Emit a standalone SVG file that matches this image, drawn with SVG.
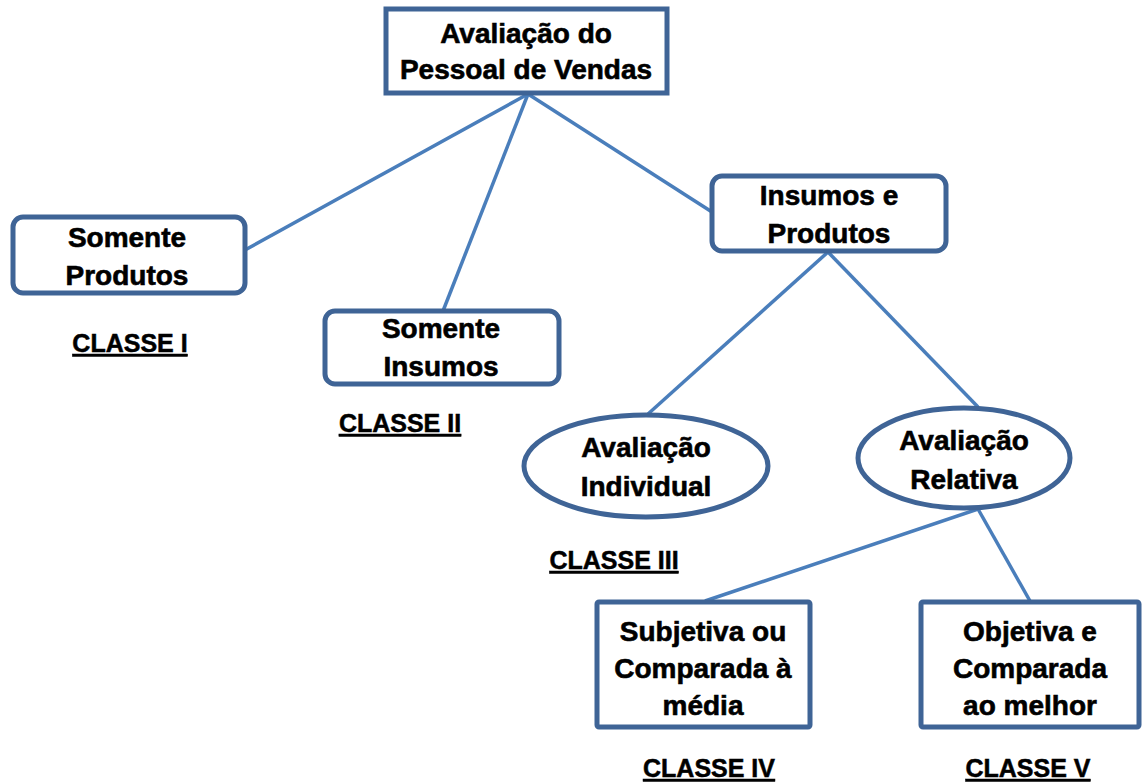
<svg xmlns="http://www.w3.org/2000/svg" width="1145" height="782" viewBox="0 0 1145 782">
<style>
.node{fill:#ffffff;stroke:#3F6496;stroke-width:5}
.t{font-family:"Liberation Sans",Arial,sans-serif;font-weight:bold;font-size:28px;fill:#000;stroke:#000;stroke-width:0.6;text-anchor:middle}
.c{font-family:"Liberation Sans",Arial,sans-serif;font-weight:bold;font-size:25px;fill:#000;stroke:#000;stroke-width:0.5;text-anchor:middle;text-decoration:underline}
.conn{stroke:#4A7EBB;stroke-width:3.5;fill:none}
</style>
<rect width="1145" height="782" fill="#ffffff"/>
<g id="connectors">
<line class="conn" x1="528" y1="94" x2="245" y2="250"/>
<line class="conn" x1="528" y1="94" x2="443" y2="311"/>
<line class="conn" x1="528" y1="94" x2="712" y2="212"/>
<line class="conn" x1="828" y1="252" x2="648" y2="414"/>
<line class="conn" x1="828" y1="252" x2="978" y2="407"/>
<line class="conn" x1="978" y1="509" x2="705" y2="601"/>
<line class="conn" x1="978" y1="509" x2="1030" y2="601"/>
</g>
<g id="avaliacao-pessoal">
<rect class="node" x="386" y="9" width="281" height="84"/>
<text class="t" x="526" y="43">Avaliação do</text>
<text class="t" x="526" y="79">Pessoal de Vendas</text>
</g>
<g id="somente-produtos">
<rect class="node" x="13" y="217" width="232" height="76" rx="10"/>
<text class="t" x="127" y="247">Somente</text>
<text class="t" x="127" y="285">Produtos</text>
</g>
<g id="classe-i">
<text class="c" x="130" y="352">CLASSE I</text>
</g>
<g id="somente-insumos">
<rect class="node" x="325" y="311" width="234" height="73" rx="10"/>
<text class="t" x="441" y="338">Somente</text>
<text class="t" x="441" y="376">Insumos</text>
</g>
<g id="classe-ii">
<text class="c" x="400" y="432">CLASSE II</text>
</g>
<g id="insumos-produtos">
<rect class="node" x="712" y="176" width="234" height="75" rx="10"/>
<text class="t" x="829" y="205">Insumos e</text>
<text class="t" x="829" y="243">Produtos</text>
</g>
<g id="avaliacao-individual">
<ellipse class="node" cx="646" cy="466" rx="122" ry="51"/>
<text class="t" x="646" y="457">Avaliação</text>
<text class="t" x="646" y="496">Individual</text>
</g>
<g id="classe-iii">
<text class="c" x="614" y="569">CLASSE III</text>
</g>
<g id="avaliacao-relativa">
<ellipse class="node" cx="964" cy="458" rx="106" ry="50"/>
<text class="t" x="964" y="450">Avaliação</text>
<text class="t" x="964" y="489">Relativa</text>
</g>
<g id="subjetiva">
<rect class="node" x="597" y="602" width="213" height="125" rx="2"/>
<text class="t" x="703" y="641">Subjetiva ou</text>
<text class="t" x="703" y="678">Comparada à</text>
<text class="t" x="703" y="715">média</text>
</g>
<g id="classe-iv">
<text class="c" x="709" y="777">CLASSE IV</text>
</g>
<g id="objetiva">
<rect class="node" x="921" y="602" width="218" height="125" rx="2"/>
<text class="t" x="1030" y="641">Objetiva e</text>
<text class="t" x="1030" y="678">Comparada</text>
<text class="t" x="1030" y="715">ao melhor</text>
</g>
<g id="classe-v">
<text class="c" x="1028" y="777">CLASSE V</text>
</g>
</svg>
